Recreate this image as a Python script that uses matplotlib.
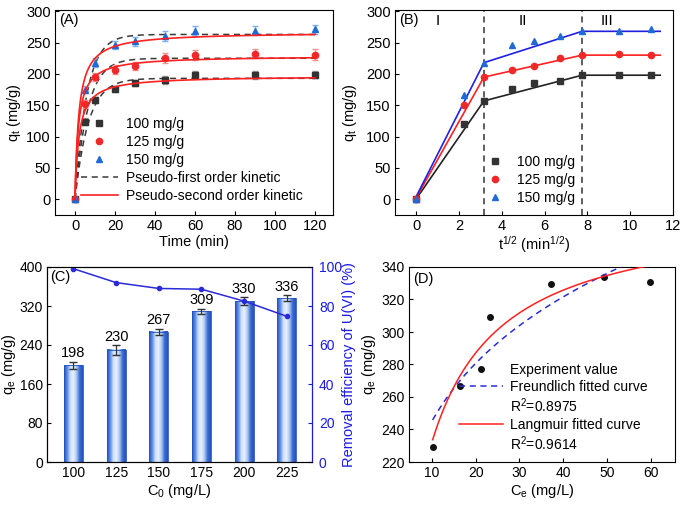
import matplotlib
matplotlib.use("Agg")
import matplotlib.pyplot as plt
import numpy as np
from matplotlib.colors import LinearSegmentedColormap
from matplotlib.lines import Line2D

plt.rcParams["font.family"] = ["Liberation Sans", "DejaVu Sans"]
plt.rcParams["font.size"] = 10
plt.rcParams["xtick.labelsize"] = 10.5
plt.rcParams["ytick.labelsize"] = 10.5
plt.rcParams["xtick.direction"] = "in"
plt.rcParams["ytick.direction"] = "in"
plt.rcParams["xtick.major.size"] = 3
plt.rcParams["ytick.major.size"] = 3
plt.rcParams["xtick.major.pad"] = 3
plt.rcParams["ytick.major.pad"] = 3
plt.rcParams["axes.labelsize"] = 10.5
plt.rcParams["legend.fontsize"] = 10
plt.rcParams["mathtext.fontset"] = "custom"
plt.rcParams["mathtext.rm"] = "Liberation Sans"
plt.rcParams["mathtext.it"] = "Liberation Sans"
plt.rcParams["axes.linewidth"] = 0.8

# ---------------- data ----------------
t_min = [0, 5, 10, 20, 30, 45, 60, 90, 120]
sqrt_t = [0, 2.24, 3.16, 4.47, 5.48, 6.71, 7.75, 9.49, 10.95]
q_100 = [0, 124, 158, 176, 185, 190, 198, 198, 199]
q_125 = [0, 152, 195, 207, 213, 225, 230, 232, 231]
q_150 = [0, 175, 218, 246, 252, 260, 269, 269, 271]
err_100 = [0, 6, 5, 5, 5, 6, 6, 6, 6]
err_125 = [0, 6, 6, 7, 6, 8, 8, 7, 8]
err_150 = [0, 6, 7, 7, 7, 8, 8, 7, 7]
qb_100 = [0, 120, 157, 176, 185, 189, 198, 198, 199]
qb_125 = [0, 150, 195, 207, 213, 226, 230, 232, 231]
qb_150 = [0, 166, 218, 246, 252, 260, 269, 269, 271]

# fitted parameters (qe, k)
pfo_qe = [193, 225, 263]
pfo_k = [0.15, 0.16, 0.17]
pso_qe = [197, 229, 267]
pso_k = [0.0026, 0.0026, 0.002]

# intra-particle diffusion segments (sqrt t, q)
seg_x = [0, 3.16, 7.75, 11.4]
seg_100 = [1, 157, 198, 198]
seg_125 = [3, 195, 230, 230]
seg_150 = [5, 218, 268, 268]

c0 = [100, 125, 150, 175, 200, 225]
qe_c = [198, 230, 267, 309, 330, 336]
qe_err = [8, 10, 6, 5, 8, 6]
removal = [99.1, 92, 89, 88.6, 82.5, 74.7]

ce_d = [10.2, 16.5, 23.2, 37.2, 49.3, 59.7]
qe_d = [229.5, 267, 309, 329.5, 334, 330.5]
lang_qm, lang_k = 376.5, 0.1605
freu_k, freu_n = 155.8, 1 / 0.1965

BLACK = "#333333"
RED = "#f02828"
BLUE = "#1f6ad6"

fig = plt.figure(figsize=(6.85, 5.05), dpi=100)
W, H = 685, 505


def add_ax(x0, y0, x1, y1):
    return fig.add_axes([x0 / W, 1 - y1 / H, (x1 - x0) / W, (y1 - y0) / H])


def ylabel_at(ax, px, x0, x1):
    # anchor of the y label at picture pixel px
    ax.yaxis.set_label_coords((px - x0) / (x1 - x0), 0.5)


# ---------------- (A) ----------------
axA = add_ax(55, 10, 333, 215)
series = [(q_100, err_100, BLACK, "s", "#999999", "100 mg/g"),
          (q_125, err_125, RED, "o", "#f59090", "125 mg/g"),
          (q_150, err_150, BLUE, "^", "#7fb0ee", "150 mg/g")]
tt = np.linspace(0, 120, 400)
for i, (q, e, c, m, ec, lab) in enumerate(series):
    axA.errorbar(t_min, q, yerr=e, fmt=m, color=c, ecolor=ec, ms=4.5,
                 capsize=2.5, elinewidth=1, label=lab, zorder=3)
    axA.plot(tt, pfo_qe[i] * (1 - np.exp(-pfo_k[i] * tt)), ls=(0, (4, 3)),
             color="#3a3a3a", lw=1.1, zorder=2)
    axA.plot(tt, pso_qe[i] ** 2 * pso_k[i] * tt / (1 + pso_qe[i] * pso_k[i] * tt),
             color="#ff2020", lw=1.2, zorder=4)
axA.set_xlim(-10, 129)
axA.set_ylim(-25, 302)
axA.set_xticks(range(0, 121, 20))
axA.set_yticks(range(0, 301, 50))
axA.set_xlabel("Time (min)", labelpad=1)
axA.set_ylabel("q$_t$ (mg/g)")
ylabel_at(axA, 23, 55, 333)
axA.text(0.015, 0.93, "(A)", transform=axA.transAxes, fontsize=10.5)
hA = [Line2D([], [], ls="none", marker="s", color=BLACK, ms=4.5),
      Line2D([], [], ls="none", marker="o", color=RED, ms=4.5),
      Line2D([], [], ls="none", marker="^", color=BLUE, ms=4.5),
      Line2D([], [], ls=(0, (4, 3)), color="#3a3a3a", lw=1.1),
      Line2D([], [], color="#ff2020", lw=1.2)]
axA.legend(hA, ["100 mg/g", "125 mg/g", "150 mg/g",
                "Pseudo-first order kinetic", "Pseudo-second order kinetic"],
           loc="lower left", bbox_to_anchor=(0.06, 0.01), frameon=False,
           handlelength=2.6, handletextpad=0.6, labelspacing=0.3, borderpad=0.2)

# ---------------- (B) ----------------
axB = add_ax(395, 10, 673, 215)
axB.plot(sqrt_t, qb_100, "s", color=BLACK, ms=4.5, label="100 mg/g", zorder=3)
axB.plot(sqrt_t, qb_125, "o", color=RED, ms=4.5, label="125 mg/g", zorder=3)
axB.plot(sqrt_t, qb_150, "^", color=BLUE, ms=4.5, label="150 mg/g", zorder=3)
axB.plot(seg_x, seg_100, color="#222222", lw=1.2)
axB.plot(seg_x, seg_125, color="#ff2020", lw=1.2)
axB.plot(seg_x, seg_150, color="#2020e0", lw=1.2)
for xv in (3.16, 7.75):
    axB.axvline(xv, color="#333333", ls=(0, (4, 3)), lw=1.1)
axB.text(1.0, 284, "I", ha="center", va="center", fontsize=11)
axB.text(5.0, 284, "II", ha="center", va="center", fontsize=11)
axB.text(8.9, 284, "III", ha="center", va="center", fontsize=11)
axB.set_xlim(-1, 12)
axB.set_ylim(-25, 302)
axB.set_xticks(range(0, 13, 2))
axB.set_yticks(range(0, 301, 50))
axB.set_xlabel("t$^{1/2}$ (min$^{1/2}$)", labelpad=1)
axB.set_ylabel("q$_t$ (mg/g)")
ylabel_at(axB, 359, 395, 673)
axB.text(0.015, 0.93, "(B)", transform=axB.transAxes, fontsize=10.5)
axB.legend(loc="lower left", bbox_to_anchor=(0.3, 0.0), frameon=False,
           handlelength=1.0, handletextpad=1.1, labelspacing=0.3, borderpad=0.2)

# ---------------- (C) ----------------
axC = add_ax(47, 267, 312, 462)
xc = np.arange(len(c0))
bw = 0.44
cmap = LinearSegmentedColormap.from_list(
    "cyl", ["#2352c0", "#5b8ee6", "#cfe0fa", "#e8f1ff", "#a9c6f2", "#3a6ad4", "#2352c0"])
grad = np.linspace(0, 1, 64).reshape(1, -1)
for xi, q in zip(xc, qe_c):
    axC.imshow(grad, cmap=cmap, aspect="auto", extent=[xi - bw / 2, xi + bw / 2, 0, q],
               zorder=2, interpolation="bilinear")
axC.bar(xc, qe_c, bw, fill=False, edgecolor="#2352c0", lw=0.6, zorder=3)
axC.errorbar(xc, qe_c, yerr=qe_err, fmt="none", ecolor="#333333", capsize=3,
             elinewidth=0.9, zorder=4)
for xi, q, e in zip(xc, qe_c, qe_err):
    axC.text(xi, q + e + 3, str(q), ha="center", va="bottom", fontsize=10.5)
axC.set_xlim(-0.62, 5.59)
axC.set_ylim(0, 400)
axC.set_xticks(xc)
axC.set_xticklabels([str(v) for v in c0])
axC.set_yticks(range(0, 401, 80))
axC.tick_params(labelsize=10)
axC.set_xlabel("C$_0$ (mg/L)", labelpad=1)
axC.set_ylabel("q$_e$ (mg/g)")
ylabel_at(axC, 18, 47, 312)
axC.text(0.01, 0.93, "(C)", transform=axC.transAxes, fontsize=10.5, zorder=6)
axC2 = axC.twinx()
axC2.plot(xc, removal, "-o", color="#2a2ad8", ms=3, lw=1.1)
axC2.set_ylim(0, 100)
axC2.set_yticks(range(0, 101, 20))
axC2.tick_params(axis="y", colors="#1a1ae6", labelsize=10, pad=5)
axC2.spines["right"].set_color("#1a1ae6")
axC2.set_ylabel("Removal efficiency of U(VI) (%)", color="#1a1ae6")
ylabel_at(axC2, 342, 47, 312)

# ---------------- (D) ----------------
axD = add_ax(409, 267, 675, 462)
axD.plot(ce_d, qe_d, "o", color="#111111", ms=4, zorder=3)
cc = np.linspace(10.2, 62, 300)
axD.plot(cc, freu_k * cc ** (1 / freu_n), ls=(0, (4, 3)), color="#2a2ad8", lw=1.1, zorder=4)
axD.plot(cc, lang_qm * lang_k * cc / (1 + lang_k * cc), color="#ff2020", lw=1.1, zorder=5)
axD.set_xlim(4.8, 65.5)
axD.set_ylim(220, 340)
axD.set_xticks(range(10, 61, 10))
axD.set_yticks(range(220, 341, 20))
axD.tick_params(labelsize=10)
axD.set_xlabel("C$_e$ (mg/L)", labelpad=1)
axD.set_ylabel("q$_e$ (mg/g)")
ylabel_at(axD, 378, 409, 675)
axD.text(0.015, 0.92, "(D)", transform=axD.transAxes, fontsize=10.5)
hD = [Line2D([], [], ls="none", marker="o", color="#111111", ms=4),
      Line2D([], [], ls=(0, (4, 3)), color="#2a2ad8", lw=1.1),
      Line2D([], [], ls="none"),
      Line2D([], [], color="#ff2020", lw=1.1),
      Line2D([], [], ls="none")]
axD.legend(hD, ["Experiment value", "Freundlich fitted curve", "R$^2$=0.8975",
                "Langmuir fitted curve", "R$^2$=0.9614"],
           loc="lower left", bbox_to_anchor=(0.15, -0.005), frameon=False,
           handlelength=3.2, handletextpad=0.5, labelspacing=0.2, borderpad=0.2)

fig.savefig("out.png", dpi=100)
